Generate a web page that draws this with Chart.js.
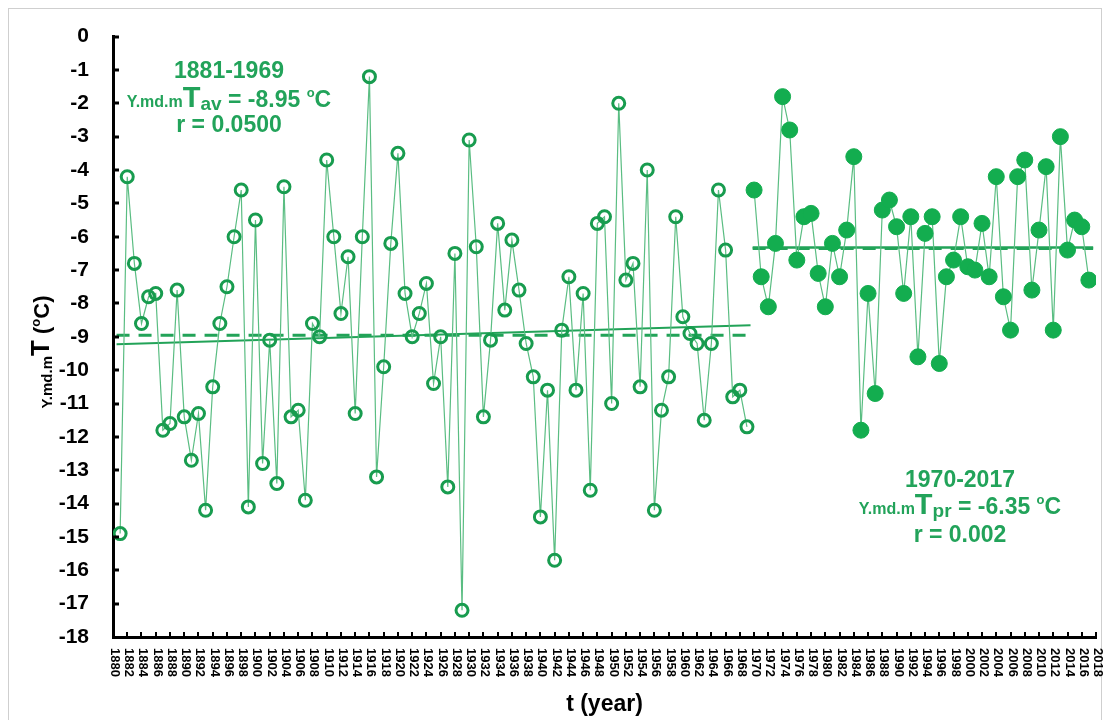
<!DOCTYPE html>
<html>
<head>
<meta charset="utf-8">
<script src="https://cdn.jsdelivr.net/npm/chart.js@4.4.1/dist/chart.umd.min.js"></script>
<style>
  body { margin: 0; background: #fff; }
  #wrap { width: 1105px; height: 720px; }
</style>
</head>
<body>
<div id="wrap"><canvas id="c" width="1105" height="720"></canvas></div>
<script>
// annual values, 1881-1969 (open circles)
var startYear1 = 1881;
var temp1 = [-14.9, -4.2, -6.8, -8.6, -7.8, -7.7, -11.8, -11.6, -7.6, -11.4,
             -12.7, -11.3, -14.2, -10.5, -8.6, -7.5, -6.0, -4.6, -14.1, -5.5,
             -12.8, -9.1, -13.4, -4.5, -11.4, -11.2, -13.9, -8.6, -9.0, -3.7,
             -6.0, -8.3, -6.6, -11.3, -6.0, -1.2, -13.2, -9.9, -6.2, -3.5,
             -7.7, -9.0, -8.3, -7.4, -10.4, -9.0, -13.5, -6.5, -17.2, -3.1,
             -6.3, -11.4, -9.1, -5.6, -8.2, -6.1, -7.6, -9.2, -10.2, -14.4,
             -10.6, -15.7, -8.8, -7.2, -10.6, -7.7, -13.6, -5.6, -5.4, -11.0,
             -2.0, -7.3, -6.8, -10.5, -4.0, -14.2, -11.2, -10.2, -5.4, -8.4,
             -8.9, -9.2, -11.5, -9.2, -4.6, -6.4, -10.8, -10.6, -11.7];

// annual values, 1970-2017 (filled circles)
var startYear2 = 1970;
var temp2 = [-4.6, -7.2, -8.1, -6.2, -1.8, -2.8, -6.7, -5.4, -5.3, -7.1,
             -8.1, -6.2, -7.2, -5.8, -3.6, -11.8, -7.7, -10.7, -5.2, -4.9,
             -5.7, -7.7, -5.4, -9.6, -5.9, -5.4, -9.8, -7.2, -6.7, -5.4,
             -6.9, -7.0, -5.6, -7.2, -4.2, -7.8, -8.8, -4.2, -3.7, -7.6,
             -5.8, -3.9, -8.8, -3.0, -6.4, -5.5, -5.7, -7.3];

// trend and mean lines (end points)
var trend1X = [1880.5, 1969.5];
var trend1Y = [-9.22, -8.65];
var mean1Y = [-8.95, -8.95];
var trend2X = [1969.8, 2017.6];
var trend2Y = [-6.32, -6.32];
var mean2Y = [-6.35, -6.35];

var xMin = 1880, xMax = 2018;
var yMin = -18, yMax = 0;

var cMarker = '#189c4f';
var cLine = '#5abd82';
var cFill = '#13ad4f';
var cText = '#22a35a';
var FONT = '"Liberation Sans", Arial, sans-serif';

function pts(x0, vals) {
  var out = [];
  for (var i = 0; i < vals.length; i++) out.push({x: x0 + i, y: vals[i]});
  return out;
}
function seg(xs, ys) {
  return [{x: xs[0], y: ys[0]}, {x: xs[1], y: ys[1]}];
}

function drawRuns(ctx, runs, cx, y) {          // mixed size text, centred
  var w = 0;
  runs.forEach(function (r) {
    ctx.font = 'bold ' + r.s + 'px ' + FONT;
    r.w = ctx.measureText(r.t).width;
    w += r.w;
  });
  var x = cx - w / 2;
  ctx.textAlign = 'left';
  ctx.textBaseline = 'alphabetic';
  runs.forEach(function (r) {
    ctx.font = 'bold ' + r.s + 'px ' + FONT;
    ctx.fillText(r.t, x, y + (r.dy || 0));
    x += r.w;
  });
}

var decor = {
  id: 'decor',
  beforeDraw: function (chart) {
    var ctx = chart.ctx;
    ctx.save();
    ctx.fillStyle = '#fff';
    ctx.fillRect(0, 0, chart.width, chart.height);
    ctx.strokeStyle = '#cfcfcf';
    ctx.lineWidth = 1;
    ctx.strokeRect(8.5, 8.5, 1093, 740);
    ctx.restore();
  },
  afterDraw: function (chart) {
    var ctx = chart.ctx, xs = chart.scales.x, ys = chart.scales.y;
    var a = chart.chartArea;
    ctx.save();
    ctx.strokeStyle = '#000';
    // inner ticks on y
    ctx.lineWidth = 3;
    for (var v = yMin + 1; v <= yMax; v++) {
      var py = Math.round(ys.getPixelForValue(v));
      ctx.beginPath(); ctx.moveTo(a.left, py); ctx.lineTo(a.left + 6, py); ctx.stroke();
    }
    // inner ticks on x and rotated year labels
    ctx.lineWidth = 2;
    ctx.fillStyle = '#000';
    ctx.font = 'bold 13px ' + FONT;
    for (var yr = xMin; yr <= xMax; yr += 2) {
      var px = Math.round(xs.getPixelForValue(yr));
      ctx.beginPath(); ctx.moveTo(px, a.bottom); ctx.lineTo(px, a.bottom - 5); ctx.stroke();
      ctx.save();
      ctx.translate(px + 2, a.bottom + 11);
      ctx.rotate(Math.PI / 2);
      ctx.textAlign = 'left';
      ctx.textBaseline = 'middle';
      ctx.fillText(String(yr), 0, 0);
      ctx.restore();
    }
    // axis titles
    ctx.fillStyle = '#000';
    drawRuns(ctx, [{t: 't (year)', s: 23}], (a.left + a.right) / 2, 711);
    ctx.save();
    ctx.translate(49, 352);
    ctx.rotate(-Math.PI / 2);
    drawRuns(ctx, [{t: 'Y.md.m', s: 15, dy: 3}, {t: 'T', s: 26}, {t: ' (', s: 22},
                   {t: 'o', s: 13, dy: -9}, {t: 'C)', s: 22}], 0, 0);
    ctx.restore();
    // period notes
    ctx.fillStyle = cText;
    drawRuns(ctx, [{t: '1881-1969', s: 23}], 229, 78);
    drawRuns(ctx, [{t: 'Y.md.m', s: 16}, {t: 'T', s: 29}, {t: 'av', s: 19, dy: 3},
                   {t: ' = -8.95 ', s: 23}, {t: 'o', s: 13, dy: -10}, {t: 'C', s: 23}], 229, 107);
    drawRuns(ctx, [{t: 'r = 0.0500', s: 23}], 229, 132);
    drawRuns(ctx, [{t: '1970-2017', s: 23}], 960, 487);
    drawRuns(ctx, [{t: 'Y.md.m', s: 16}, {t: 'T', s: 29}, {t: 'pr', s: 19, dy: 3},
                   {t: ' = -6.35 ', s: 23}, {t: 'o', s: 13, dy: -10}, {t: 'C', s: 23}], 960, 514);
    drawRuns(ctx, [{t: 'r = 0.002', s: 23}], 960, 542);
    ctx.restore();
  }
};

var cfg = {
  type: 'line',
  data: {
    datasets: [
      { data: pts(startYear1, temp1), borderColor: cLine, borderWidth: 1.2,
        pointRadius: 6, pointBorderWidth: 3, pointBorderColor: cMarker,
        pointBackgroundColor: 'rgba(0,0,0,0)', tension: 0 },
      { data: pts(startYear2, temp2), borderColor: cLine, borderWidth: 1.2,
        pointRadius: 8, pointBorderWidth: 1, pointBorderColor: cFill,
        pointBackgroundColor: cFill, tension: 0 },
      { data: seg(trend1X, trend1Y), borderColor: '#22a358', borderWidth: 2, pointRadius: 0 },
      { data: seg(trend1X, mean1Y), borderColor: '#22a358', borderWidth: 3,
        borderDash: [13, 9], pointRadius: 0 },
      { data: seg(trend2X, trend2Y), borderColor: '#22a358', borderWidth: 2.5, pointRadius: 0 },
      { data: seg(trend2X, mean2Y), borderColor: '#22a358', borderWidth: 3,
        borderDash: [13, 9], pointRadius: 0 }
    ]
  },
  options: {
    responsive: false,
    animation: false,
    devicePixelRatio: 1,
    layout: { padding: { top: 30, right: 8, left: 0, bottom: 0 } },
    plugins: { legend: { display: false }, tooltip: { enabled: false } },
    scales: {
      x: {
        type: 'linear', min: xMin, max: xMax,
        grid: { display: false, drawTicks: false },
        border: { display: true, color: '#000', width: 3 },
        ticks: { display: false },
        afterFit: function (s) { s.height = 83; }
      },
      y: {
        min: yMin, max: yMax,
        grid: { display: false, drawTicks: false },
        border: { display: true, color: '#000', width: 3 },
        ticks: { stepSize: 1, color: '#000', padding: 24,
                 font: { family: FONT, size: 21, weight: 'bold' } },
        afterFit: function (s) { s.width = 113; }
      }
    }
  },
  plugins: [decor]
};

new Chart(document.getElementById('c'), cfg);
</script>
</body>
</html>
